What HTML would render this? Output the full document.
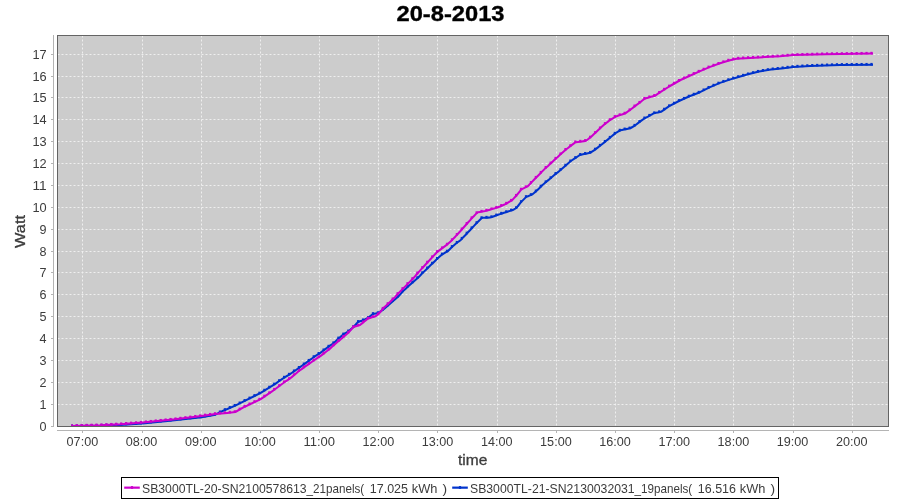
<!DOCTYPE html><html><head><meta charset="utf-8"><title>20-8-2013</title><style>html,body{margin:0;padding:0;background:#fff}svg{display:block;will-change:transform}text{font-family:"Liberation Sans",sans-serif}</style></head><body>
<svg width="900" height="500" viewBox="0 0 900 500">
<rect width="900" height="500" fill="#ffffff"/>
<rect x="57" y="35" width="832" height="392" fill="#cccccc"/>
<g stroke="#efefef" stroke-width="1" stroke-dasharray="2,2"><line x1="57.5" x2="888" y1="404.5" y2="404.5"/><line x1="57.5" x2="888" y1="382.5" y2="382.5"/><line x1="57.5" x2="888" y1="360.5" y2="360.5"/><line x1="57.5" x2="888" y1="338.5" y2="338.5"/><line x1="57.5" x2="888" y1="316.5" y2="316.5"/><line x1="57.5" x2="888" y1="294.5" y2="294.5"/><line x1="57.5" x2="888" y1="272.5" y2="272.5"/><line x1="57.5" x2="888" y1="251.5" y2="251.5"/><line x1="57.5" x2="888" y1="229.5" y2="229.5"/><line x1="57.5" x2="888" y1="207.5" y2="207.5"/><line x1="57.5" x2="888" y1="185.5" y2="185.5"/><line x1="57.5" x2="888" y1="163.5" y2="163.5"/><line x1="57.5" x2="888" y1="141.5" y2="141.5"/><line x1="57.5" x2="888" y1="119.5" y2="119.5"/><line x1="57.5" x2="888" y1="97.5" y2="97.5"/><line x1="57.5" x2="888" y1="76.5" y2="76.5"/><line x1="57.5" x2="888" y1="54.5" y2="54.5"/><line y1="35.5" y2="426" x1="82.5" x2="82.5"/><line y1="35.5" y2="426" x1="142.5" x2="142.5"/><line y1="35.5" y2="426" x1="201.5" x2="201.5"/><line y1="35.5" y2="426" x1="260.5" x2="260.5"/><line y1="35.5" y2="426" x1="319.5" x2="319.5"/><line y1="35.5" y2="426" x1="378.5" x2="378.5"/><line y1="35.5" y2="426" x1="437.5" x2="437.5"/><line y1="35.5" y2="426" x1="497.5" x2="497.5"/><line y1="35.5" y2="426" x1="556.5" x2="556.5"/><line y1="35.5" y2="426" x1="615.5" x2="615.5"/><line y1="35.5" y2="426" x1="674.5" x2="674.5"/><line y1="35.5" y2="426" x1="733.5" x2="733.5"/><line y1="35.5" y2="426" x1="793.5" x2="793.5"/><line y1="35.5" y2="426" x1="852.5" x2="852.5"/></g>
<clipPath id="pc"><rect x="71.2" y="36" width="816.8" height="390"/></clipPath><g clip-path="url(#pc)">
<path d="M71.5,426.20 L100.0,425.70 L120.0,424.90 L142.5,423.40 L170.0,420.70 L201.5,417.30 L215.3,414.70 L223.3,410.70 L235.3,405.60 L244.7,400.90 L260.7,392.90 L272.0,385.97 L274.0,384.63 L276.0,383.28 L276.7,382.81 L278.0,381.91 L280.0,380.53 L282.0,379.15 L284.0,377.77 L286.0,376.50 L288.0,375.32 L290.0,374.15 L292.0,372.76 L294.0,371.37 L296.0,369.97 L298.0,368.56 L300.0,367.16 L302.0,365.75 L304.0,364.35 L306.0,362.91 L308.0,361.42 L310.0,359.94 L312.0,358.46 L314.0,356.97 L316.0,355.60 L318.0,354.34 L319.2,353.58 L320.0,353.07 L322.0,351.58 L324.0,350.09 L326.0,348.60 L328.0,347.11 L330.0,345.62 L332.0,344.26 L334.0,342.90 L336.0,340.92 L338.0,338.94 L339.0,337.95 L340.0,337.20 L342.0,335.60 L344.0,334.00 L346.0,332.80 L348.0,331.60 L349.0,331.00 L350.0,330.11 L352.0,328.33 L353.5,327.00 L354.0,326.44 L356.0,324.22 L358.0,322.00 L360.0,321.33 L362.0,320.67 L364.0,320.00 L366.0,319.00 L368.0,318.00 L370.0,316.40 L372.0,314.80 L373.0,314.00 L374.0,313.82 L376.0,313.45 L378.0,313.09 L378.5,313.00 L380.0,311.91 L382.0,310.45 L384.0,309.00 L386.0,307.22 L388.0,305.44 L390.0,303.67 L392.0,301.95 L393.0,301.09 L394.0,300.21 L396.0,298.44 L398.0,296.67 L399.0,295.78 L400.0,294.61 L402.0,292.27 L403.0,291.10 L404.0,290.20 L406.0,288.40 L408.0,286.60 L410.0,284.80 L412.0,283.00 L412.7,282.37 L414.0,281.22 L416.0,279.43 L418.0,277.65 L420.0,275.70 L422.0,273.56 L422.5,273.08 L424.0,271.62 L426.0,269.68 L428.0,267.74 L430.0,265.80 L432.0,263.86 L433.0,262.89 L434.0,261.92 L436.0,259.98 L438.0,258.12 L440.0,256.33 L442.0,254.55 L444.0,253.38 L446.0,252.20 L448.0,251.00 L450.0,249.00 L452.0,247.00 L452.5,246.50 L454.0,245.21 L456.0,243.49 L458.0,242.03 L460.0,240.56 L461.0,239.71 L462.0,238.65 L464.0,236.54 L466.0,234.43 L468.0,232.31 L470.0,230.20 L471.5,228.53 L472.0,228.00 L474.0,225.90 L476.0,223.80 L477.5,222.22 L478.0,221.73 L480.0,219.77 L482.0,217.80 L484.0,217.74 L486.0,217.68 L488.0,217.62 L490.0,217.57 L491.0,217.32 L492.0,216.97 L494.0,216.25 L496.0,215.54 L497.5,215.01 L498.0,214.84 L500.0,214.14 L502.0,213.44 L504.0,212.74 L506.0,212.20 L508.0,211.54 L510.0,210.89 L512.0,210.23 L512.7,210.03 L514.0,209.31 L516.0,208.20 L516.5,207.92 L518.0,206.00 L520.0,203.43 L521.0,202.15 L522.0,201.14 L524.0,199.13 L526.0,197.11 L526.2,196.91 L528.0,196.19 L530.0,195.39 L532.0,194.59 L532.2,194.51 L534.0,193.01 L536.0,191.35 L538.0,189.42 L539.0,188.46 L540.0,187.44 L542.0,185.46 L542.5,184.98 L544.0,183.73 L546.0,182.07 L548.0,180.41 L550.0,178.75 L550.7,178.17 L552.0,177.05 L554.0,175.33 L556.0,173.61 L558.0,172.07 L560.0,170.52 L560.5,170.08 L562.0,168.76 L564.0,166.99 L566.0,165.23 L568.0,163.46 L570.0,161.70 L570.2,161.52 L572.0,160.28 L574.0,158.93 L576.0,157.58 L578.0,156.24 L580.0,154.89 L582.0,154.50 L584.0,154.07 L586.0,153.64 L588.0,153.20 L590.0,152.77 L590.5,152.70 L592.0,151.70 L594.0,150.37 L595.0,149.70 L596.0,148.92 L598.0,147.36 L600.0,145.79 L602.0,144.23 L604.0,142.67 L604.7,142.08 L606.0,141.01 L608.0,139.36 L610.0,137.71 L612.0,136.06 L614.0,134.41 L615.5,133.20 L616.0,132.90 L618.0,131.70 L620.0,130.50 L620.5,130.20 L622.0,129.91 L624.0,129.51 L626.0,129.12 L628.0,128.73 L630.0,128.34 L630.2,128.30 L632.0,127.26 L634.0,126.10 L634.7,125.70 L636.0,124.71 L638.0,123.17 L640.0,121.64 L642.0,120.19 L644.0,118.73 L644.5,118.37 L646.0,117.61 L648.0,116.59 L650.0,115.43 L652.0,114.27 L653.5,113.39 L654.0,113.28 L656.0,112.80 L658.0,112.40 L661.0,111.80 L669.2,106.20 L679.0,101.00 L689.5,96.30 L700.0,92.20 L709.5,87.40 L720.0,82.90 L733.5,78.40 L747.0,74.60 L759.0,71.50 L771.0,69.50 L781.5,68.40 L793.5,66.90 L810.0,65.90 L840.0,64.90 L873.0,64.70" fill="none" stroke="#0033cc" stroke-width="2.05" stroke-linejoin="round"/>
<g fill="#0033cc"><rect x="70.75" y="424.39" width="2.2" height="2.6"/><rect x="75.69" y="424.30" width="2.2" height="2.6"/><rect x="80.62" y="424.22" width="2.2" height="2.6"/><rect x="85.56" y="424.13" width="2.2" height="2.6"/><rect x="90.49" y="424.04" width="2.2" height="2.6"/><rect x="95.43" y="423.96" width="2.2" height="2.6"/><rect x="100.37" y="423.84" width="2.2" height="2.6"/><rect x="105.30" y="423.64" width="2.2" height="2.6"/><rect x="110.24" y="423.44" width="2.2" height="2.6"/><rect x="115.17" y="423.24" width="2.2" height="2.6"/><rect x="120.11" y="423.01" width="2.2" height="2.6"/><rect x="125.05" y="422.68" width="2.2" height="2.6"/><rect x="129.98" y="422.35" width="2.2" height="2.6"/><rect x="134.92" y="422.02" width="2.2" height="2.6"/><rect x="139.85" y="421.69" width="2.2" height="2.6"/><rect x="144.79" y="421.25" width="2.2" height="2.6"/><rect x="149.73" y="420.77" width="2.2" height="2.6"/><rect x="154.66" y="420.28" width="2.2" height="2.6"/><rect x="159.60" y="419.80" width="2.2" height="2.6"/><rect x="164.53" y="419.31" width="2.2" height="2.6"/><rect x="169.47" y="418.82" width="2.2" height="2.6"/><rect x="174.41" y="418.29" width="2.2" height="2.6"/><rect x="179.34" y="417.76" width="2.2" height="2.6"/><rect x="184.28" y="417.22" width="2.2" height="2.6"/><rect x="189.21" y="416.69" width="2.2" height="2.6"/><rect x="194.15" y="416.16" width="2.2" height="2.6"/><rect x="199.09" y="415.63" width="2.2" height="2.6"/><rect x="204.02" y="414.79" width="2.2" height="2.6"/><rect x="208.96" y="413.86" width="2.2" height="2.6"/><rect x="213.89" y="412.93" width="2.2" height="2.6"/><rect x="218.83" y="410.51" width="2.2" height="2.6"/><rect x="223.77" y="408.17" width="2.2" height="2.6"/><rect x="228.70" y="406.07" width="2.2" height="2.6"/><rect x="233.64" y="403.98" width="2.2" height="2.6"/><rect x="238.57" y="401.54" width="2.2" height="2.6"/><rect x="243.51" y="399.07" width="2.2" height="2.6"/><rect x="248.45" y="396.60" width="2.2" height="2.6"/><rect x="253.38" y="394.13" width="2.2" height="2.6"/><rect x="258.32" y="391.67" width="2.2" height="2.6"/><rect x="263.25" y="388.77" width="2.2" height="2.6"/><rect x="268.19" y="385.74" width="2.2" height="2.6"/><rect x="273.13" y="382.57" width="2.2" height="2.6"/><rect x="278.06" y="379.21" width="2.2" height="2.6"/><rect x="283.00" y="375.81" width="2.2" height="2.6"/><rect x="287.93" y="372.83" width="2.2" height="2.6"/><rect x="292.87" y="369.49" width="2.2" height="2.6"/><rect x="297.81" y="366.02" width="2.2" height="2.6"/><rect x="302.74" y="362.56" width="2.2" height="2.6"/><rect x="307.68" y="358.93" width="2.2" height="2.6"/><rect x="312.61" y="355.27" width="2.2" height="2.6"/><rect x="317.55" y="352.03" width="2.2" height="2.6"/><rect x="322.49" y="348.48" width="2.2" height="2.6"/><rect x="327.42" y="344.81" width="2.2" height="2.6"/><rect x="332.36" y="341.37" width="2.2" height="2.6"/><rect x="337.29" y="336.60" width="2.2" height="2.6"/><rect x="342.23" y="332.62" width="2.2" height="2.6"/><rect x="347.17" y="329.55" width="2.2" height="2.6"/><rect x="352.10" y="325.33" width="2.2" height="2.6"/><rect x="357.04" y="320.10" width="2.2" height="2.6"/><rect x="361.97" y="318.46" width="2.2" height="2.6"/><rect x="366.91" y="316.07" width="2.2" height="2.6"/><rect x="371.85" y="312.18" width="2.2" height="2.6"/><rect x="376.78" y="311.29" width="2.2" height="2.6"/><rect x="381.72" y="307.95" width="2.2" height="2.6"/><rect x="386.65" y="303.73" width="2.2" height="2.6"/><rect x="391.59" y="299.43" width="2.2" height="2.6"/><rect x="396.53" y="295.07" width="2.2" height="2.6"/><rect x="401.46" y="289.64" width="2.2" height="2.6"/><rect x="406.40" y="285.12" width="2.2" height="2.6"/><rect x="411.33" y="280.68" width="2.2" height="2.6"/><rect x="416.27" y="276.28" width="2.2" height="2.6"/><rect x="421.21" y="271.32" width="2.2" height="2.6"/><rect x="426.14" y="266.53" width="2.2" height="2.6"/><rect x="431.08" y="261.74" width="2.2" height="2.6"/><rect x="436.01" y="257.00" width="2.2" height="2.6"/><rect x="440.95" y="252.63" width="2.2" height="2.6"/><rect x="445.89" y="249.72" width="2.2" height="2.6"/><rect x="450.82" y="245.13" width="2.2" height="2.6"/><rect x="455.76" y="240.95" width="2.2" height="2.6"/><rect x="460.69" y="236.91" width="2.2" height="2.6"/><rect x="465.63" y="231.70" width="2.2" height="2.6"/><rect x="470.57" y="226.39" width="2.2" height="2.6"/><rect x="475.50" y="221.21" width="2.2" height="2.6"/><rect x="480.44" y="216.31" width="2.2" height="2.6"/><rect x="485.37" y="215.87" width="2.2" height="2.6"/><rect x="490.31" y="215.32" width="2.2" height="2.6"/><rect x="495.25" y="213.57" width="2.2" height="2.6"/><rect x="500.18" y="211.84" width="2.2" height="2.6"/><rect x="505.12" y="210.28" width="2.2" height="2.6"/><rect x="510.05" y="208.66" width="2.2" height="2.6"/><rect x="514.99" y="206.27" width="2.2" height="2.6"/><rect x="519.93" y="200.17" width="2.2" height="2.6"/><rect x="524.86" y="195.20" width="2.2" height="2.6"/><rect x="529.80" y="193.17" width="2.2" height="2.6"/><rect x="534.73" y="189.56" width="2.2" height="2.6"/><rect x="539.67" y="184.73" width="2.2" height="2.6"/><rect x="544.61" y="180.39" width="2.2" height="2.6"/><rect x="549.54" y="176.29" width="2.2" height="2.6"/><rect x="554.48" y="172.05" width="2.2" height="2.6"/><rect x="559.41" y="168.14" width="2.2" height="2.6"/><rect x="564.35" y="163.78" width="2.2" height="2.6"/><rect x="569.29" y="159.49" width="2.2" height="2.6"/><rect x="574.22" y="156.14" width="2.2" height="2.6"/><rect x="579.16" y="153.01" width="2.2" height="2.6"/><rect x="584.09" y="151.98" width="2.2" height="2.6"/><rect x="589.03" y="150.93" width="2.2" height="2.6"/><rect x="593.97" y="147.73" width="2.2" height="2.6"/><rect x="598.90" y="143.87" width="2.2" height="2.6"/><rect x="603.84" y="139.96" width="2.2" height="2.6"/><rect x="608.77" y="135.89" width="2.2" height="2.6"/><rect x="613.71" y="131.84" width="2.2" height="2.6"/><rect x="618.65" y="128.76" width="2.2" height="2.6"/><rect x="623.58" y="127.55" width="2.2" height="2.6"/><rect x="628.52" y="126.58" width="2.2" height="2.6"/><rect x="633.45" y="123.90" width="2.2" height="2.6"/><rect x="638.39" y="120.12" width="2.2" height="2.6"/><rect x="643.33" y="116.53" width="2.2" height="2.6"/><rect x="648.26" y="113.91" width="2.2" height="2.6"/><rect x="653.20" y="111.37" width="2.2" height="2.6"/><rect x="658.13" y="110.32" width="2.2" height="2.6"/><rect x="663.07" y="107.73" width="2.2" height="2.6"/><rect x="668.01" y="104.37" width="2.2" height="2.6"/><rect x="672.94" y="101.75" width="2.2" height="2.6"/><rect x="677.88" y="99.14" width="2.2" height="2.6"/><rect x="682.81" y="96.93" width="2.2" height="2.6"/><rect x="687.75" y="94.72" width="2.2" height="2.6"/><rect x="692.69" y="92.77" width="2.2" height="2.6"/><rect x="697.62" y="90.84" width="2.2" height="2.6"/><rect x="702.56" y="88.48" width="2.2" height="2.6"/><rect x="707.49" y="85.98" width="2.2" height="2.6"/><rect x="712.43" y="83.81" width="2.2" height="2.6"/><rect x="717.37" y="81.69" width="2.2" height="2.6"/><rect x="722.30" y="79.92" width="2.2" height="2.6"/><rect x="727.24" y="78.27" width="2.2" height="2.6"/><rect x="732.17" y="76.63" width="2.2" height="2.6"/><rect x="737.11" y="75.23" width="2.2" height="2.6"/><rect x="742.05" y="73.84" width="2.2" height="2.6"/><rect x="746.98" y="72.48" width="2.2" height="2.6"/><rect x="751.92" y="71.21" width="2.2" height="2.6"/><rect x="756.85" y="69.93" width="2.2" height="2.6"/><rect x="761.79" y="69.03" width="2.2" height="2.6"/><rect x="766.73" y="68.20" width="2.2" height="2.6"/><rect x="771.66" y="67.50" width="2.2" height="2.6"/><rect x="776.60" y="66.98" width="2.2" height="2.6"/><rect x="781.53" y="66.44" width="2.2" height="2.6"/><rect x="786.47" y="65.82" width="2.2" height="2.6"/><rect x="791.41" y="65.21" width="2.2" height="2.6"/><rect x="796.34" y="64.85" width="2.2" height="2.6"/><rect x="801.28" y="64.55" width="2.2" height="2.6"/><rect x="806.21" y="64.25" width="2.2" height="2.6"/><rect x="811.15" y="64.02" width="2.2" height="2.6"/><rect x="816.09" y="63.86" width="2.2" height="2.6"/><rect x="821.02" y="63.69" width="2.2" height="2.6"/><rect x="825.96" y="63.53" width="2.2" height="2.6"/><rect x="830.89" y="63.36" width="2.2" height="2.6"/><rect x="835.83" y="63.20" width="2.2" height="2.6"/><rect x="840.77" y="63.09" width="2.2" height="2.6"/><rect x="845.70" y="63.06" width="2.2" height="2.6"/><rect x="850.64" y="63.03" width="2.2" height="2.6"/><rect x="855.57" y="63.00" width="2.2" height="2.6"/><rect x="860.51" y="62.97" width="2.2" height="2.6"/><rect x="865.45" y="62.94" width="2.2" height="2.6"/><rect x="870.38" y="62.91" width="2.2" height="2.6"/></g>
<path d="M71.5,426.00 L100.0,425.30 L120.0,424.30 L142.5,422.60 L175.0,419.30 L201.5,416.00 L215.3,414.00 L227.3,412.90 L235.3,412.00 L244.7,406.70 L260.7,399.10 L272.0,391.42 L274.0,389.97 L276.0,388.51 L276.7,388.00 L278.0,387.01 L280.0,385.49 L282.0,383.97 L284.0,382.46 L286.0,381.06 L288.0,379.78 L290.0,378.50 L292.0,376.85 L294.0,375.19 L296.0,373.46 L298.0,371.65 L300.0,370.23 L302.0,368.80 L304.0,367.38 L306.0,365.96 L308.0,364.55 L310.0,363.15 L312.0,361.74 L314.0,360.34 L316.0,358.99 L318.0,357.72 L319.2,356.95 L320.0,356.34 L322.0,354.83 L324.0,353.31 L326.0,351.79 L328.0,350.28 L330.0,348.63 L332.0,346.85 L334.0,345.07 L336.0,343.29 L338.0,341.57 L340.0,339.86 L341.0,339.00 L342.0,338.14 L344.0,336.43 L346.0,334.71 L348.0,333.00 L350.0,330.82 L352.0,328.64 L353.5,327.00 L354.0,326.85 L356.0,326.23 L358.0,325.62 L360.0,325.00 L362.0,323.38 L364.0,321.75 L366.0,320.12 L368.0,318.50 L370.0,317.93 L372.0,317.36 L374.0,316.79 L375.0,316.50 L376.0,315.79 L378.0,314.36 L378.5,314.00 L380.0,312.23 L382.0,309.86 L384.0,307.50 L386.0,305.70 L388.0,303.90 L389.0,303.00 L390.0,302.02 L392.0,300.07 L394.0,298.11 L395.0,297.14 L396.0,296.02 L398.0,293.74 L398.5,293.16 L400.0,291.65 L402.0,289.65 L404.0,287.64 L406.0,285.63 L407.5,284.12 L408.0,283.62 L410.0,281.60 L412.0,279.58 L414.0,277.56 L416.0,275.17 L417.2,273.73 L418.0,272.83 L420.0,270.60 L422.0,268.42 L424.0,266.24 L426.0,264.06 L427.7,262.21 L428.0,261.88 L430.0,259.70 L432.0,257.56 L434.0,255.41 L436.0,253.27 L437.5,251.71 L438.0,251.34 L440.0,249.86 L442.0,248.37 L444.0,246.88 L446.0,245.40 L447.2,244.54 L448.0,243.81 L450.0,241.99 L452.0,240.17 L452.5,239.61 L454.0,238.03 L455.0,236.97 L456.0,235.89 L458.0,233.73 L460.0,231.57 L462.0,229.27 L462.5,228.70 L464.0,227.02 L466.0,224.79 L468.0,222.55 L470.0,220.32 L471.5,218.49 L472.0,217.97 L474.0,215.92 L476.0,213.87 L477.5,212.41 L478.0,212.32 L480.0,211.96 L482.0,211.60 L484.0,211.23 L485.0,211.05 L486.0,210.78 L488.0,210.22 L490.0,209.67 L492.0,209.08 L494.0,208.49 L496.0,207.89 L497.5,207.45 L498.0,207.26 L500.0,206.48 L502.0,205.61 L504.0,204.75 L506.0,203.88 L508.0,202.62 L510.0,201.37 L512.0,200.34 L514.0,198.17 L516.0,196.00 L516.5,195.46 L518.0,193.56 L520.0,191.03 L521.0,189.66 L522.0,189.17 L524.0,188.19 L526.0,187.20 L527.7,186.37 L528.0,186.06 L530.0,183.97 L532.0,181.88 L534.0,179.79 L536.0,177.70 L538.0,175.68 L540.0,173.66 L542.0,171.63 L544.0,169.61 L545.5,168.10 L546.0,167.68 L548.0,166.00 L550.0,164.11 L552.0,162.22 L554.0,160.33 L556.0,158.44 L556.5,158.00 L558.0,156.65 L560.0,154.84 L562.0,153.04 L564.0,151.23 L565.7,149.70 L566.0,149.47 L568.0,147.94 L570.0,146.41 L572.0,144.88 L574.0,143.35 L575.5,142.24 L576.0,142.18 L578.0,141.92 L580.0,141.66 L582.0,141.40 L584.0,141.14 L586.0,140.71 L588.0,139.20 L590.0,137.68 L590.5,137.35 L592.0,135.95 L594.0,134.08 L596.0,132.21 L598.0,130.35 L600.0,128.43 L600.2,128.23 L602.0,126.60 L604.0,124.78 L606.0,123.20 L608.0,121.61 L610.0,120.03 L612.0,118.79 L614.0,117.55 L615.5,116.57 L616.0,116.41 L618.0,115.76 L620.0,115.12 L622.0,114.47 L624.0,113.82 L625.0,113.50 L626.0,112.81 L628.0,111.44 L629.5,110.41 L630.0,110.05 L632.0,108.48 L634.0,106.91 L636.0,105.34 L637.0,104.56 L638.0,103.86 L640.0,102.48 L642.0,100.83 L644.0,99.17 L644.5,98.76 L646.0,98.27 L648.0,97.70 L650.0,97.13 L652.0,96.56 L654.0,95.99 L655.0,95.70 L656.0,95.03 L658.0,93.70 L659.5,92.70 L670.0,86.00 L680.5,80.00 L691.0,75.20 L699.0,71.60 L709.5,67.10 L720.0,63.30 L729.0,60.40 L736.5,58.70 L750.0,57.90 L765.0,57.10 L780.0,56.30 L793.5,55.10 L825.0,54.20 L873.0,53.60" fill="none" stroke="#cc00cc" stroke-width="2.05" stroke-linejoin="round"/>
<g fill="#cc00cc"><rect x="70.75" y="424.19" width="2.2" height="2.6"/><rect x="75.69" y="424.07" width="2.2" height="2.6"/><rect x="80.62" y="423.95" width="2.2" height="2.6"/><rect x="85.56" y="423.82" width="2.2" height="2.6"/><rect x="90.49" y="423.70" width="2.2" height="2.6"/><rect x="95.43" y="423.58" width="2.2" height="2.6"/><rect x="100.37" y="423.42" width="2.2" height="2.6"/><rect x="105.30" y="423.17" width="2.2" height="2.6"/><rect x="110.24" y="422.93" width="2.2" height="2.6"/><rect x="115.17" y="422.68" width="2.2" height="2.6"/><rect x="120.11" y="422.40" width="2.2" height="2.6"/><rect x="125.05" y="422.02" width="2.2" height="2.6"/><rect x="129.98" y="421.65" width="2.2" height="2.6"/><rect x="134.92" y="421.28" width="2.2" height="2.6"/><rect x="139.85" y="420.91" width="2.2" height="2.6"/><rect x="144.79" y="420.44" width="2.2" height="2.6"/><rect x="149.73" y="419.94" width="2.2" height="2.6"/><rect x="154.66" y="419.44" width="2.2" height="2.6"/><rect x="159.60" y="418.94" width="2.2" height="2.6"/><rect x="164.53" y="418.44" width="2.2" height="2.6"/><rect x="169.47" y="417.93" width="2.2" height="2.6"/><rect x="174.41" y="417.42" width="2.2" height="2.6"/><rect x="179.34" y="416.80" width="2.2" height="2.6"/><rect x="184.28" y="416.19" width="2.2" height="2.6"/><rect x="189.21" y="415.57" width="2.2" height="2.6"/><rect x="194.15" y="414.96" width="2.2" height="2.6"/><rect x="199.09" y="414.34" width="2.2" height="2.6"/><rect x="204.02" y="413.65" width="2.2" height="2.6"/><rect x="208.96" y="412.94" width="2.2" height="2.6"/><rect x="213.89" y="412.22" width="2.2" height="2.6"/><rect x="218.83" y="411.76" width="2.2" height="2.6"/><rect x="223.77" y="411.31" width="2.2" height="2.6"/><rect x="228.70" y="410.80" width="2.2" height="2.6"/><rect x="233.64" y="410.25" width="2.2" height="2.6"/><rect x="238.57" y="407.65" width="2.2" height="2.6"/><rect x="243.51" y="404.87" width="2.2" height="2.6"/><rect x="248.45" y="402.53" width="2.2" height="2.6"/><rect x="253.38" y="400.18" width="2.2" height="2.6"/><rect x="258.32" y="397.84" width="2.2" height="2.6"/><rect x="263.25" y="394.72" width="2.2" height="2.6"/><rect x="268.19" y="391.36" width="2.2" height="2.6"/><rect x="273.13" y="387.89" width="2.2" height="2.6"/><rect x="278.06" y="384.21" width="2.2" height="2.6"/><rect x="283.00" y="380.48" width="2.2" height="2.6"/><rect x="287.93" y="377.22" width="2.2" height="2.6"/><rect x="292.87" y="373.29" width="2.2" height="2.6"/><rect x="297.81" y="369.10" width="2.2" height="2.6"/><rect x="302.74" y="365.58" width="2.2" height="2.6"/><rect x="307.68" y="362.10" width="2.2" height="2.6"/><rect x="312.61" y="358.63" width="2.2" height="2.6"/><rect x="317.55" y="355.41" width="2.2" height="2.6"/><rect x="322.49" y="351.71" width="2.2" height="2.6"/><rect x="327.42" y="347.93" width="2.2" height="2.6"/><rect x="332.36" y="343.62" width="2.2" height="2.6"/><rect x="337.29" y="339.31" width="2.2" height="2.6"/><rect x="342.23" y="335.07" width="2.2" height="2.6"/><rect x="347.17" y="330.75" width="2.2" height="2.6"/><rect x="352.10" y="325.36" width="2.2" height="2.6"/><rect x="357.04" y="323.73" width="2.2" height="2.6"/><rect x="361.97" y="320.58" width="2.2" height="2.6"/><rect x="366.91" y="316.65" width="2.2" height="2.6"/><rect x="371.85" y="315.24" width="2.2" height="2.6"/><rect x="376.78" y="312.53" width="2.2" height="2.6"/><rect x="381.72" y="306.92" width="2.2" height="2.6"/><rect x="386.65" y="302.19" width="2.2" height="2.6"/><rect x="391.59" y="297.45" width="2.2" height="2.6"/><rect x="396.53" y="292.19" width="2.2" height="2.6"/><rect x="401.46" y="287.13" width="2.2" height="2.6"/><rect x="406.40" y="282.17" width="2.2" height="2.6"/><rect x="411.33" y="277.19" width="2.2" height="2.6"/><rect x="416.27" y="271.57" width="2.2" height="2.6"/><rect x="421.21" y="266.12" width="2.2" height="2.6"/><rect x="426.14" y="260.74" width="2.2" height="2.6"/><rect x="431.08" y="255.41" width="2.2" height="2.6"/><rect x="436.01" y="250.16" width="2.2" height="2.6"/><rect x="440.95" y="246.42" width="2.2" height="2.6"/><rect x="445.89" y="242.79" width="2.2" height="2.6"/><rect x="450.82" y="238.29" width="2.2" height="2.6"/><rect x="455.76" y="233.00" width="2.2" height="2.6"/><rect x="460.69" y="227.54" width="2.2" height="2.6"/><rect x="465.63" y="222.00" width="2.2" height="2.6"/><rect x="470.57" y="216.36" width="2.2" height="2.6"/><rect x="475.50" y="211.34" width="2.2" height="2.6"/><rect x="480.44" y="209.85" width="2.2" height="2.6"/><rect x="485.37" y="208.80" width="2.2" height="2.6"/><rect x="490.31" y="207.41" width="2.2" height="2.6"/><rect x="495.25" y="205.95" width="2.2" height="2.6"/><rect x="500.18" y="204.06" width="2.2" height="2.6"/><rect x="505.12" y="201.85" width="2.2" height="2.6"/><rect x="510.05" y="198.90" width="2.2" height="2.6"/><rect x="514.99" y="193.94" width="2.2" height="2.6"/><rect x="519.93" y="187.77" width="2.2" height="2.6"/><rect x="524.86" y="185.35" width="2.2" height="2.6"/><rect x="529.80" y="181.07" width="2.2" height="2.6"/><rect x="534.73" y="175.92" width="2.2" height="2.6"/><rect x="539.67" y="170.93" width="2.2" height="2.6"/><rect x="544.61" y="166.00" width="2.2" height="2.6"/><rect x="549.54" y="161.56" width="2.2" height="2.6"/><rect x="554.48" y="156.90" width="2.2" height="2.6"/><rect x="559.41" y="152.44" width="2.2" height="2.6"/><rect x="564.35" y="147.99" width="2.2" height="2.6"/><rect x="569.29" y="144.20" width="2.2" height="2.6"/><rect x="574.22" y="140.46" width="2.2" height="2.6"/><rect x="579.16" y="139.80" width="2.2" height="2.6"/><rect x="584.09" y="139.05" width="2.2" height="2.6"/><rect x="589.03" y="135.70" width="2.2" height="2.6"/><rect x="593.97" y="131.15" width="2.2" height="2.6"/><rect x="598.90" y="126.48" width="2.2" height="2.6"/><rect x="603.84" y="122.12" width="2.2" height="2.6"/><rect x="608.77" y="118.21" width="2.2" height="2.6"/><rect x="613.71" y="115.12" width="2.2" height="2.6"/><rect x="618.65" y="113.35" width="2.2" height="2.6"/><rect x="623.58" y="111.75" width="2.2" height="2.6"/><rect x="628.52" y="108.41" width="2.2" height="2.6"/><rect x="633.45" y="104.56" width="2.2" height="2.6"/><rect x="638.39" y="100.93" width="2.2" height="2.6"/><rect x="643.33" y="96.94" width="2.2" height="2.6"/><rect x="648.26" y="95.47" width="2.2" height="2.6"/><rect x="653.20" y="94.06" width="2.2" height="2.6"/><rect x="658.13" y="90.98" width="2.2" height="2.6"/><rect x="663.07" y="87.82" width="2.2" height="2.6"/><rect x="668.01" y="84.67" width="2.2" height="2.6"/><rect x="672.94" y="81.80" width="2.2" height="2.6"/><rect x="677.88" y="78.98" width="2.2" height="2.6"/><rect x="682.81" y="76.57" width="2.2" height="2.6"/><rect x="687.75" y="74.31" width="2.2" height="2.6"/><rect x="692.69" y="72.08" width="2.2" height="2.6"/><rect x="697.62" y="69.86" width="2.2" height="2.6"/><rect x="702.56" y="67.74" width="2.2" height="2.6"/><rect x="707.49" y="65.62" width="2.2" height="2.6"/><rect x="712.43" y="63.79" width="2.2" height="2.6"/><rect x="717.37" y="62.00" width="2.2" height="2.6"/><rect x="722.30" y="60.36" width="2.2" height="2.6"/><rect x="727.24" y="58.76" width="2.2" height="2.6"/><rect x="732.17" y="57.60" width="2.2" height="2.6"/><rect x="737.11" y="56.79" width="2.2" height="2.6"/><rect x="742.05" y="56.50" width="2.2" height="2.6"/><rect x="746.98" y="56.20" width="2.2" height="2.6"/><rect x="751.92" y="55.93" width="2.2" height="2.6"/><rect x="756.85" y="55.67" width="2.2" height="2.6"/><rect x="761.79" y="55.40" width="2.2" height="2.6"/><rect x="766.73" y="55.14" width="2.2" height="2.6"/><rect x="771.66" y="54.88" width="2.2" height="2.6"/><rect x="776.60" y="54.61" width="2.2" height="2.6"/><rect x="781.53" y="54.25" width="2.2" height="2.6"/><rect x="786.47" y="53.81" width="2.2" height="2.6"/><rect x="791.41" y="53.38" width="2.2" height="2.6"/><rect x="796.34" y="53.18" width="2.2" height="2.6"/><rect x="801.28" y="53.04" width="2.2" height="2.6"/><rect x="806.21" y="52.90" width="2.2" height="2.6"/><rect x="811.15" y="52.76" width="2.2" height="2.6"/><rect x="816.09" y="52.62" width="2.2" height="2.6"/><rect x="821.02" y="52.48" width="2.2" height="2.6"/><rect x="825.96" y="52.37" width="2.2" height="2.6"/><rect x="830.89" y="52.31" width="2.2" height="2.6"/><rect x="835.83" y="52.25" width="2.2" height="2.6"/><rect x="840.77" y="52.19" width="2.2" height="2.6"/><rect x="845.70" y="52.13" width="2.2" height="2.6"/><rect x="850.64" y="52.06" width="2.2" height="2.6"/><rect x="855.57" y="52.00" width="2.2" height="2.6"/><rect x="860.51" y="51.94" width="2.2" height="2.6"/><rect x="865.45" y="51.88" width="2.2" height="2.6"/><rect x="870.38" y="51.82" width="2.2" height="2.6"/></g>
</g>
<rect x="57.5" y="35.5" width="831" height="391" fill="none" stroke="#646464" stroke-width="1" shape-rendering="crispEdges"/>
<g stroke="#b4b4b4" stroke-width="1" shape-rendering="crispEdges"><line x1="53.5" x2="53.5" y1="35" y2="427"/><line x1="57" x2="889" y1="430.5" y2="430.5"/><line x1="51" x2="53" y1="426.5" y2="426.5"/><line x1="51" x2="53" y1="404.5" y2="404.5"/><line x1="51" x2="53" y1="382.5" y2="382.5"/><line x1="51" x2="53" y1="360.5" y2="360.5"/><line x1="51" x2="53" y1="338.5" y2="338.5"/><line x1="51" x2="53" y1="316.5" y2="316.5"/><line x1="51" x2="53" y1="294.5" y2="294.5"/><line x1="51" x2="53" y1="272.5" y2="272.5"/><line x1="51" x2="53" y1="251.5" y2="251.5"/><line x1="51" x2="53" y1="229.5" y2="229.5"/><line x1="51" x2="53" y1="207.5" y2="207.5"/><line x1="51" x2="53" y1="185.5" y2="185.5"/><line x1="51" x2="53" y1="163.5" y2="163.5"/><line x1="51" x2="53" y1="141.5" y2="141.5"/><line x1="51" x2="53" y1="119.5" y2="119.5"/><line x1="51" x2="53" y1="97.5" y2="97.5"/><line x1="51" x2="53" y1="76.5" y2="76.5"/><line x1="51" x2="53" y1="54.5" y2="54.5"/><line y1="431" y2="433" x1="82.5" x2="82.5"/><line y1="431" y2="433" x1="142.5" x2="142.5"/><line y1="431" y2="433" x1="201.5" x2="201.5"/><line y1="431" y2="433" x1="260.5" x2="260.5"/><line y1="431" y2="433" x1="319.5" x2="319.5"/><line y1="431" y2="433" x1="378.5" x2="378.5"/><line y1="431" y2="433" x1="437.5" x2="437.5"/><line y1="431" y2="433" x1="497.5" x2="497.5"/><line y1="431" y2="433" x1="556.5" x2="556.5"/><line y1="431" y2="433" x1="615.5" x2="615.5"/><line y1="431" y2="433" x1="674.5" x2="674.5"/><line y1="431" y2="433" x1="733.5" x2="733.5"/><line y1="431" y2="433" x1="793.5" x2="793.5"/><line y1="431" y2="433" x1="852.5" x2="852.5"/></g>
<g class="t" fill="#3c3c3c" font-size="12.5"><text x="39.6" y="431.1" textLength="7.0" lengthAdjust="spacingAndGlyphs">0</text><text x="39.6" y="409.1" textLength="7.0" lengthAdjust="spacingAndGlyphs">1</text><text x="39.6" y="387.1" textLength="7.0" lengthAdjust="spacingAndGlyphs">2</text><text x="39.6" y="365.1" textLength="7.0" lengthAdjust="spacingAndGlyphs">3</text><text x="39.6" y="343.1" textLength="7.0" lengthAdjust="spacingAndGlyphs">4</text><text x="39.6" y="321.1" textLength="7.0" lengthAdjust="spacingAndGlyphs">5</text><text x="39.6" y="299.1" textLength="7.0" lengthAdjust="spacingAndGlyphs">6</text><text x="39.6" y="277.1" textLength="7.0" lengthAdjust="spacingAndGlyphs">7</text><text x="39.6" y="256.1" textLength="7.0" lengthAdjust="spacingAndGlyphs">8</text><text x="39.6" y="234.1" textLength="7.0" lengthAdjust="spacingAndGlyphs">9</text><text x="32.4" y="212.1" textLength="14.2" lengthAdjust="spacingAndGlyphs">10</text><text x="32.4" y="190.1" textLength="14.2" lengthAdjust="spacingAndGlyphs">11</text><text x="32.4" y="168.1" textLength="14.2" lengthAdjust="spacingAndGlyphs">12</text><text x="32.4" y="146.1" textLength="14.2" lengthAdjust="spacingAndGlyphs">13</text><text x="32.4" y="124.1" textLength="14.2" lengthAdjust="spacingAndGlyphs">14</text><text x="32.4" y="102.1" textLength="14.2" lengthAdjust="spacingAndGlyphs">15</text><text x="32.4" y="81.1" textLength="14.2" lengthAdjust="spacingAndGlyphs">16</text><text x="32.4" y="59.1" textLength="14.2" lengthAdjust="spacingAndGlyphs">17</text><text x="66.6" y="446" textLength="31.6" lengthAdjust="spacingAndGlyphs">07:00</text><text x="125.8" y="446" textLength="31.6" lengthAdjust="spacingAndGlyphs">08:00</text><text x="185.0" y="446" textLength="31.6" lengthAdjust="spacingAndGlyphs">09:00</text><text x="244.2" y="446" textLength="31.6" lengthAdjust="spacingAndGlyphs">10:00</text><text x="303.4" y="446" textLength="31.6" lengthAdjust="spacingAndGlyphs">11:00</text><text x="362.6" y="446" textLength="31.6" lengthAdjust="spacingAndGlyphs">12:00</text><text x="421.7" y="446" textLength="31.6" lengthAdjust="spacingAndGlyphs">13:00</text><text x="480.9" y="446" textLength="31.6" lengthAdjust="spacingAndGlyphs">14:00</text><text x="540.1" y="446" textLength="31.6" lengthAdjust="spacingAndGlyphs">15:00</text><text x="599.3" y="446" textLength="31.6" lengthAdjust="spacingAndGlyphs">16:00</text><text x="658.5" y="446" textLength="31.6" lengthAdjust="spacingAndGlyphs">17:00</text><text x="717.6" y="446" textLength="31.6" lengthAdjust="spacingAndGlyphs">18:00</text><text x="776.8" y="446" textLength="31.6" lengthAdjust="spacingAndGlyphs">19:00</text><text x="836.0" y="446" textLength="31.6" lengthAdjust="spacingAndGlyphs">20:00</text></g>
<text x="458" y="465" font-size="14.5" fill="#3c3c3c" stroke="#3c3c3c" stroke-width="0.3" textLength="29.3" lengthAdjust="spacingAndGlyphs">time</text>
<text transform="translate(25.1,248) rotate(-90)" font-size="14" fill="#3c3c3c" stroke="#3c3c3c" stroke-width="0.3" textLength="33" lengthAdjust="spacingAndGlyphs">Watt</text>
<text class="t" x="396.5" y="21" font-size="22" font-weight="bold" fill="#000" stroke="#000" stroke-width="0.35" textLength="108" lengthAdjust="spacingAndGlyphs">20-8-2013</text>
<rect x="121.5" y="477.5" width="657" height="21" fill="#fff" stroke="#000" stroke-width="1" shape-rendering="crispEdges"/>
<line x1="124.2" x2="139.8" y1="487.65" y2="487.65" stroke="#cc00cc" stroke-width="2.2"/>
<rect x="130.9" y="486.1" width="2.2" height="2.8" fill="#cc00cc"/>
<line x1="452.2" x2="467.8" y1="487.65" y2="487.65" stroke="#0033cc" stroke-width="2.2"/>
<rect x="458.9" y="486.1" width="2.2" height="2.8" fill="#0033cc"/>
<g font-size="12.1" fill="#3c3c3c"><text x="142.00" y="492.6" textLength="164.60" lengthAdjust="spacingAndGlyphs">SB3000TL-20-SN2100578613</text><text x="306.60" y="492.6" textLength="57.60" lengthAdjust="spacingAndGlyphs">_21panels(</text><text x="369.80" y="492.6" textLength="38.20" lengthAdjust="spacingAndGlyphs">17.025</text><text x="411.80" y="492.6" textLength="25.60" lengthAdjust="spacingAndGlyphs">kWh</text><text x="442.40" y="492.6" textLength="4.60" lengthAdjust="spacingAndGlyphs">)</text><text x="470.00" y="492.6" textLength="164.60" lengthAdjust="spacingAndGlyphs">SB3000TL-21-SN2130032031</text><text x="634.60" y="492.6" textLength="57.60" lengthAdjust="spacingAndGlyphs">_19panels(</text><text x="697.80" y="492.6" textLength="38.20" lengthAdjust="spacingAndGlyphs">16.516</text><text x="739.80" y="492.6" textLength="25.60" lengthAdjust="spacingAndGlyphs">kWh</text><text x="770.40" y="492.6" textLength="4.60" lengthAdjust="spacingAndGlyphs">)</text></g>
</svg></body></html>
